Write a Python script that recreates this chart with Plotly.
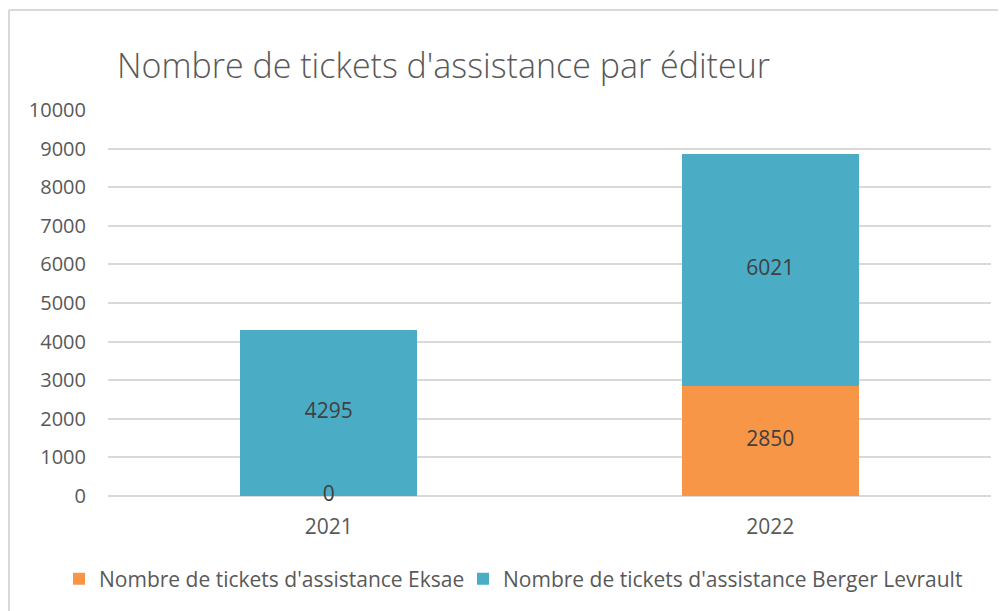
import plotly.graph_objects as go

years = ["2021", "2022"]
eksae = [0, 2850]
berger = [4295, 6021]
name_eksae = "Nombre de tickets d'assistance Eksae"
name_berger = "Nombre de tickets d'assistance Berger Levrault"
title = "Nombre de tickets d'assistance par éditeur"
y_ticks = [0, 1000, 2000, 3000, 4000, 5000, 6000, 7000, 8000, 9000, 10000]

C_ORANGE = "#F79646"
C_BLUE = "#4BACC6"
TXT = "#595959"
GRID = "#D9D9D9"
FONT = "Open Sans"

OFF = 8  # page body margin offset
W, H = 1006, 611
L, R, T, B = 108 - OFF, 23, 110 - OFF, 123
pw, ph = W - L - R, H - T - B

fig = go.Figure()
fig.add_bar(x=years, y=eksae, name=name_eksae, marker=dict(color=C_ORANGE, line=dict(width=0)),
            legend="legend")
fig.add_bar(x=years, y=berger, name=name_berger, marker=dict(color=C_BLUE, line=dict(width=0)),
            legend="legend2")

# data labels at segment centres
lab_x, lab_y, lab_t = [], [], []
for i, yv in enumerate(years):
    lab_x.append(yv); lab_y.append(eksae[i] / 2); lab_t.append(str(eksae[i]))
    lab_x.append(yv); lab_y.append(eksae[i] + berger[i] / 2); lab_t.append(str(berger[i]))
fig.add_scatter(x=lab_x, y=lab_y, text=lab_t, mode="text", showlegend=False,
                textfont=dict(family=FONT, size=21, color="#404040"), hoverinfo="skip",
                cliponaxis=False)

# chart border (left and top)
def px_x(p):
    return (p - OFF - L) / pw
def px_y(p):
    return (H - B - (p - OFF)) / ph
fig.add_shape(type="line", xref="paper", yref="paper", x0=px_x(9), x1=px_x(9), y0=px_y(H + 20), y1=px_y(10),
              line=dict(color=GRID, width=2))
fig.add_shape(type="line", xref="paper", yref="paper", x0=px_x(9), x1=px_x(W + 20), y0=px_y(10), y1=px_y(10),
              line=dict(color=GRID, width=2))

leg_common = dict(orientation="h", xref="container", yref="container", xanchor="left",
                  y=1 - (579 - OFF) / H, yanchor="middle",
                  font=dict(family=FONT, size=21, color=TXT), itemwidth=30, bgcolor="rgba(0,0,0,0)")

fig.update_layout(
    width=W, height=H,
    margin=dict(l=L, r=R, t=T, b=B, autoexpand=False),
    barmode="stack", bargap=0.6,
    paper_bgcolor="white", plot_bgcolor="white",
    font=dict(family=FONT, color=TXT, size=20),
    title=dict(text=title, x=(117 - OFF) / W, xanchor="left", xref="container",
               y=1 - (66 - OFF) / H, yanchor="middle", yref="container",
               font=dict(family=FONT, size=34, color=TXT, weight=300)),
    legend=dict(x=(59 - OFF) / W, **leg_common),
    legend2=dict(x=(463 - OFF) / W, **leg_common),
    showlegend=True,
)
fig.update_xaxes(type="category", showgrid=False, showline=False, ticks="",
                 ticklabelstandoff=16,
                 tickfont=dict(family=FONT, size=21, color=TXT))
fig.update_yaxes(range=[0, 10000], tickvals=y_ticks, ticktext=[str(v) for v in y_ticks],
                 showgrid=True, gridcolor=GRID, gridwidth=2,
                 zeroline=True, zerolinecolor=GRID, zerolinewidth=2, showline=False, ticks="",
                 ticklabelstandoff=21,
                 tickfont=dict(family=FONT, size=20, color=TXT))

fig.write_html("out.html")
